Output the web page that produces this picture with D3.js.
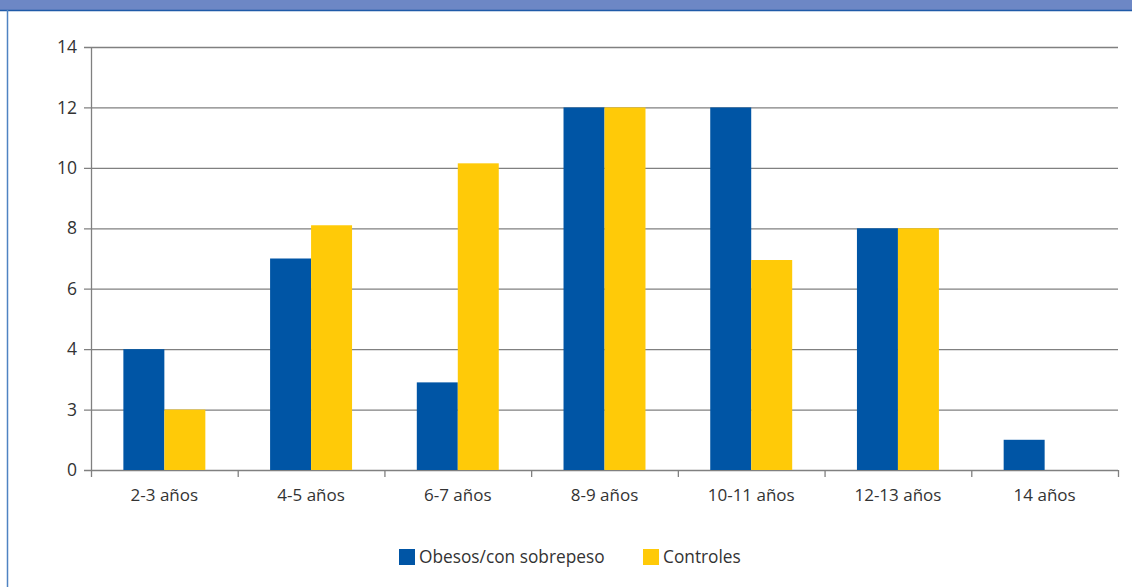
<!DOCTYPE html>
<html>
<head>
<meta charset="utf-8">
<script src="https://cdn.jsdelivr.net/npm/d3@7"></script>
<style>
  html, body { margin: 0; padding: 0; background: #fff; }
  svg { display: block; }
</style>
</head>
<body>
<div id="chart"></div>
<script>
const categories = ["2-3 años", "4-5 años", "6-7 años", "8-9 años", "10-11 años", "12-13 años", "14 años"];
const obesos = [4, 7, 2.9, 12, 12, 8, 1];
const controles = [2, 8.1, 10.15, 12, 6.95, 8, 0];
const seriesNames = ["Obesos/con sobrepeso", "Controles"];
const tickValues = [0, 2, 4, 6, 8, 10, 12, 14];
const tickLabels = ["0", "3", "4", "6", "8", "10", "12", "14"];

const width = 1132;
const height = 587;
const margin = { top: 47, right: 14, bottom: 117, left: 91 };
const colors = ["#0055a5", "#ffca08"];
const font = "'Open Sans', 'Noto Sans', sans-serif";

const svg = d3
  .select("#chart")
  .append("svg")
  .attr("width", width)
  .attr("height", height)
  .attr("font-family", font);

// header band and frame
svg.append("rect")
  .attr("x", 0).attr("y", 0)
  .attr("width", width).attr("height", 10)
  .attr("fill", "#6d87c5");
svg.append("line")
  .attr("x1", 0).attr("x2", width)
  .attr("y1", 10.5).attr("y2", 10.5)
  .attr("stroke", "#1f5aa8").attr("stroke-width", 1.5);
svg.append("line")
  .attr("x1", 7.5).attr("x2", 7.5)
  .attr("y1", 10).attr("y2", height)
  .attr("stroke", "#4f83c2").attr("stroke-width", 1.5);

const x = d3.scaleBand()
  .domain(categories)
  .range([margin.left, width - margin.right]);

const x1 = d3.scaleBand()
  .domain(seriesNames)
  .range([0, x.bandwidth()])
  .paddingOuter(0.79)
  .paddingInner(0);

const y = d3.scaleLinear()
  .domain([0, 14])
  .range([height - margin.bottom, margin.top]);

// gridlines + y axis
const yAxis = d3.axisLeft(y)
  .tickValues(tickValues)
  .tickFormat((d, i) => tickLabels[i])
  .tickSize(-(width - margin.right - margin.left) - 7)
  .tickPadding(7);

const gy = svg.append("g")
  .attr("transform", `translate(${margin.left - 7},0)`)
  .call(yAxis)
  .attr("font-family", font)
  .attr("font-size", 17.5);
gy.select(".domain").remove();
gy.selectAll(".tick line")
  .attr("stroke", "#808080")
  .attr("stroke-width", 1.3);
gy.selectAll(".tick text")
  .attr("fill", "#333");

// y axis line
svg.append("line")
  .attr("x1", margin.left + 0.5).attr("x2", margin.left + 0.5)
  .attr("y1", margin.top).attr("y2", height - margin.bottom + 7)
  .attr("stroke", "#808080").attr("stroke-width", 1.3);

// bars
const rows = categories.map((c, i) => ({ cat: c, values: [obesos[i], controles[i]] }));

svg.append("g")
  .selectAll("g")
  .data(rows)
  .enter()
  .append("g")
  .attr("transform", d => `translate(${x(d.cat)},0)`)
  .selectAll("rect")
  .data(d => d.values.map((v, j) => ({ key: seriesNames[j], value: v, j })))
  .enter()
  .append("rect")
  .attr("x", d => x1(d.key))
  .attr("y", d => y(d.value))
  .attr("width", x1.bandwidth())
  .attr("height", d => y(0) - y(d.value))
  .attr("fill", d => colors[d.j]);

// x axis
const xAxis = d3.axisBottom(x).tickSize(0).tickPadding(19);
const gx = svg.append("g")
  .attr("transform", `translate(0,${y(0)})`)
  .call(xAxis)
  .attr("font-family", font)
  .attr("font-size", 17);
gx.select(".domain").remove();
gx.selectAll(".tick text")
  .attr("fill", "#333");

svg.append("g")
  .selectAll("line")
  .data(categories.slice(1).concat([null]))
  .enter()
  .append("line")
  .attr("x1", d => (d ? x(d) : width - margin.right) + 0.5)
  .attr("x2", d => (d ? x(d) : width - margin.right) + 0.5)
  .attr("y1", y(0))
  .attr("y2", y(0) + 7)
  .attr("stroke", "#808080")
  .attr("stroke-width", 1.3);

// legend
const legend = svg.append("g");
const legendX = [399, 643];
seriesNames.forEach((name, i) => {
  legend.append("rect")
    .attr("x", legendX[i]).attr("y", 549)
    .attr("width", 16).attr("height", 16)
    .attr("fill", colors[i]);
  legend.append("text")
    .attr("x", legendX[i] + 20).attr("y", 563)
    .attr("fill", "#333")
    .attr("font-size", 17.3)
    .text(name);
});
</script>
</body>
</html>
